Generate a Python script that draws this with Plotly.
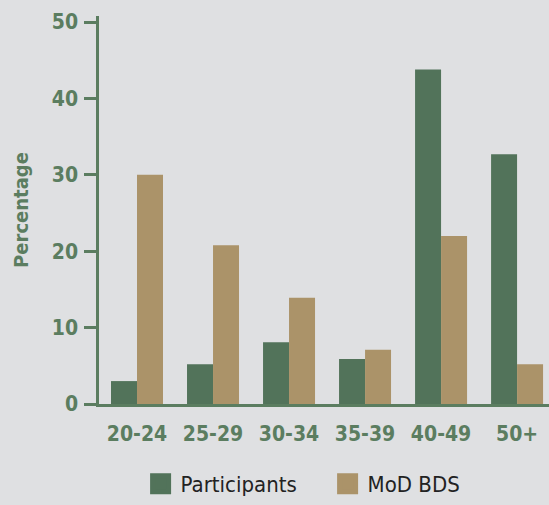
import plotly.graph_objects as go

categories = ["20-24", "25-29", "30-34", "35-39", "40-49", "50+"]
participants = [3.0, 5.2, 8.1, 5.9, 43.8, 32.7]
mod_bds = [30.0, 20.8, 13.9, 7.1, 22.0, 5.2]
y_ticks = [0, 10, 20, 30, 40, 50]

GREEN = "#52735a"
TAN = "#ab9369"
AXIS = "#5b7d60"
BG = "#dfe0e2"
FAM = "DejaVu Sans Condensed, Liberation Sans Narrow, Roboto, sans-serif"

fig = go.Figure()
fig.add_trace(go.Bar(x=categories, y=participants, name="Participants",
                     marker_color=GREEN, marker_line_width=0, showlegend=False))
fig.add_trace(go.Bar(x=categories, y=mod_bds, name="MoD BDS",
                     marker_color=TAN, marker_line_width=0, showlegend=False))
# legend proxies with large square symbols
fig.add_trace(go.Scatter(x=[None], y=[None], mode="markers", name="Participants",
                         marker=dict(symbol="square", size=16, color=GREEN,
                                     line=dict(width=5, color=GREEN))))
fig.add_trace(go.Scatter(x=[None], y=[None], mode="markers", name="MoD BDS",
                         marker=dict(symbol="square", size=16, color=TAN,
                                     line=dict(width=5, color=TAN))))

tickfont = dict(family=FAM, size=21, color=AXIS, weight="bold")

fig.update_layout(
    width=549, height=505,
    margin=dict(l=99, r=0, t=16, b=101),
    paper_bgcolor=BG, plot_bgcolor=BG,
    barmode="group", bargap=0.316, bargroupgap=0,
    legend=dict(orientation="h", x=0.508, xanchor="center", xref="paper",
                y=0.0, yref="container", yanchor="bottom",
                font=dict(family=FAM, size=22, color="#222222"),
                itemwidth=30, entrywidth=142, tracegroupgap=0,
                bgcolor="rgba(0,0,0,0)"),
    xaxis=dict(type="category", range=[-0.5, 5.42], showline=True, linecolor=AXIS,
               linewidth=2.5, showgrid=False, zeroline=False, ticks="",
               tickfont=tickfont, ticklabelstandoff=9, fixedrange=True),
    yaxis=dict(range=[0, 50.8], tickvals=y_ticks, showline=True, linecolor=AXIS,
               linewidth=2.5, showgrid=False, zeroline=False, ticks="outside",
               ticklen=12, tickwidth=2.5, tickcolor=AXIS, tickfont=tickfont,
               ticklabelstandoff=2, fixedrange=True,
               title=dict(text="Percentage", standoff=18,
                          font=dict(family=FAM, size=20,
                                    color=AXIS, weight="bold"))),
)

fig.write_html("out.html", config={"displayModeBar": False},
               post_script="document.body.style.margin='0';")
